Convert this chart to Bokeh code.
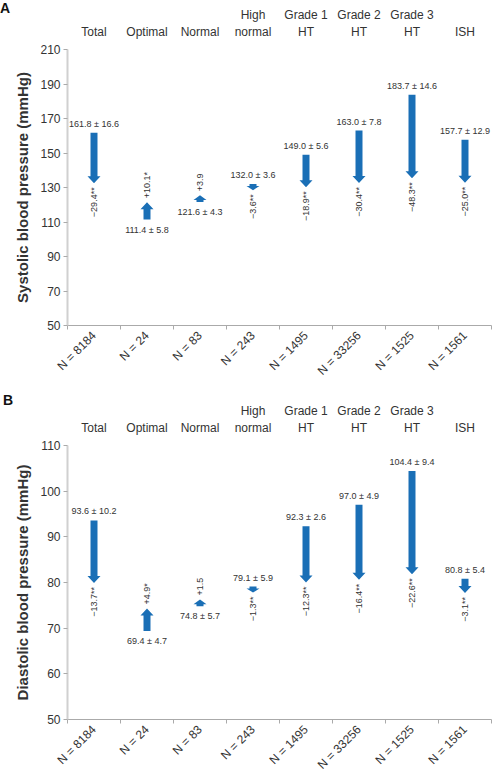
import math
from bokeh.plotting import figure
from bokeh.models import FixedTicker, LinearAxis, Range1d, ColumnDataSource, Div
from bokeh.layouts import column
from bokeh.embed import file_html
from bokeh.resources import INLINE
from bokeh.core.properties import value

# ---------------- data ----------------
categories = ["Total", "Optimal", "Normal", "High normal", "Grade 1 HT", "Grade 2 HT", "Grade 3 HT", "ISH"]
headers = ["Total", "Optimal", "Normal", "High\nnormal", "Grade 1\nHT", "Grade 2\nHT", "Grade 3\nHT", "ISH"]
n_labels = ["N = 8184", "N = 24", "N = 83", "N = 243", "N = 1495", "N = 33256", "N = 1525", "N = 1561"]

sbp_baseline = [161.8, 111.4, 121.6, 132.0, 149.0, 163.0, 183.7, 157.7]
sbp_sd = [16.6, 5.8, 4.3, 3.6, 5.6, 7.8, 14.6, 12.9]
sbp_change = [-29.4, 10.1, 3.9, -3.6, -18.9, -30.4, -48.3, -25.0]
sbp_sig = ["**", "*", "", "**", "**", "**", "**", "**"]
sbp_ticks = [50, 70, 90, 110, 130, 150, 170, 190, 210]

dbp_baseline = [93.6, 69.4, 74.8, 79.1, 92.3, 97.0, 104.4, 80.8]
dbp_sd = [10.2, 4.7, 5.7, 5.9, 2.6, 4.9, 9.4, 5.4]
dbp_change = [-13.7, 4.9, 1.5, -1.3, -12.3, -16.4, -22.6, -3.1]
dbp_sig = ["**", "*", "", "**", "**", "**", "**", "**"]
dbp_ticks = [50, 60, 70, 80, 90, 100, 110]

# ---------------- style ----------------
FONT = "Liberation Sans"
TEXT = "#333333"
BLUE = "#1a6fb6"
WIDTH = 492
BORDER_L = 67
BORDER_R = 1
BORDER_T = 49
FRAME_W = WIDTH - BORDER_L - BORDER_R
FRAME_H = 276


def panel(baseline, sd, change, sig, ticks, ytitle, bottom):
    n = len(categories)
    y0, y1 = ticks[0], ticks[-1]
    height = BORDER_T + FRAME_H + bottom
    p = figure(width=WIDTH, height=height,
               x_range=Range1d(0, n), y_range=Range1d(y0, y1),
               output_backend="svg", toolbar_location=None,
               min_border_left=BORDER_L, min_border_right=BORDER_R,
               min_border_top=BORDER_T, min_border_bottom=bottom)
    p.xgrid.visible = False
    p.ygrid.visible = False
    p.outline_line_color = None
    p.background_fill_color = "white"
    p.border_fill_color = None

    centers = [i + 0.5 for i in range(n)]
    ux = n / FRAME_W             # data units per px (x)
    uy = (y1 - y0) / FRAME_H     # data units per px (y)
    sw, hw = 3.5 * ux, 6.5 * ux

    pxs, pys = [], []
    for xc, b, c in zip(centers, baseline, change):
        e = b + c
        d = 1 if c > 0 else -1
        head = min(7.0, 0.7 * abs(c) / uy) * uy
        yh = e - d * head
        pxs.append([xc - sw, xc + sw, xc + sw, xc + hw, xc, xc - hw, xc - sw])
        pys.append([b, b, yh, yh, e, yh, yh])
    p.patches(pxs, pys, fill_color=BLUE, line_color=None)

    for up in (False, True):
        idx = [i for i in range(n) if (change[i] > 0) == up]
        src = ColumnDataSource(dict(
            x=[centers[i] for i in idx],
            yb=[baseline[i] for i in idx],
            ye=[baseline[i] + change[i] for i in idx],
            vt=[f"{baseline[i]:.1f} \u00b1 {sd[i]:.1f}" for i in idx],
            ct=[("+" if change[i] > 0 else "\u2212") + f"{abs(change[i]):.1f}" + sig[i] for i in idx],
        ))
        p.text(x="x", y="yb", text="vt", source=src,
               text_font=value(FONT), text_font_size="9px", text_color=TEXT,
               text_align="center",
               text_baseline="top" if up else "bottom",
               y_offset=5 if up else -4)
        p.text(x="x", y="ye", text="ct", source=src, angle=math.pi / 2,
               text_font=value(FONT), text_font_size="9px", text_color=TEXT,
               text_align="left" if up else "right", text_baseline="middle",
               y_offset=-4 if up else 4)

    ya = p.yaxis[0]
    ya.ticker = FixedTicker(ticks=ticks)
    ya.axis_line_color = "#d0d0d0"
    ya.axis_line_width = 2
    ya.major_tick_line_color = "#aaaaaa"
    ya.major_tick_out = 4
    ya.major_tick_in = 0
    ya.minor_tick_line_color = None
    ya.major_label_text_font = FONT
    ya.major_label_text_font_size = "12px"
    ya.major_label_text_color = TEXT
    ya.major_label_standoff = 3
    ya.axis_label = ytitle
    ya.axis_label_text_font = FONT
    ya.axis_label_text_font_size = "15px"
    ya.axis_label_text_font_style = "bold"
    ya.axis_label_text_color = TEXT
    ya.axis_label_standoff = 6

    xa = p.xaxis[0]
    xa.ticker = FixedTicker(ticks=centers, minor_ticks=list(range(n + 1)))
    xa.major_label_overrides = {c: lab for c, lab in zip(centers, n_labels)}
    xa.major_label_orientation = math.pi / 4
    xa.axis_line_color = "#aaaaaa"
    xa.major_tick_line_color = None
    xa.minor_tick_line_color = "#aaaaaa"
    xa.minor_tick_out = 4
    xa.minor_tick_in = 0
    xa.major_label_text_font = FONT
    xa.major_label_text_font_size = "12px"
    xa.major_label_text_color = TEXT
    xa.major_label_standoff = 2

    top = LinearAxis(ticker=FixedTicker(ticks=centers),
                     major_label_overrides={c: h for c, h in zip(centers, headers)})
    top.axis_line_color = None
    top.major_tick_line_color = None
    top.minor_tick_line_color = None
    top.major_label_text_font = FONT
    top.major_label_text_font_size = "12px"
    top.major_label_text_color = TEXT
    top.major_label_standoff = 5
    p.add_layout(top, "above")
    return p


def letter_div(letter, margin):
    return Div(text=letter, width=20, height=20, margin=margin,
               styles={"font-family": FONT, "font-size": "14px", "font-weight": "bold",
                       "color": "#111111", "line-height": "16px"})


pa = panel(sbp_baseline, sbp_sd, sbp_change, sbp_sig, sbp_ticks,
           "Systolic blood pressure (mmHg)", 71)
pb = panel(dbp_baseline, dbp_sd, dbp_change, dbp_sig, dbp_ticks,
           "Diastolic blood pressure (mmHg)", 58)

layout = column(letter_div("A", (0, 0, -20, 0)), pa,
                letter_div("B", (-4, 0, -16, 3)), pb, spacing=0)
open("out.html", "w").write(file_html(layout, INLINE))
